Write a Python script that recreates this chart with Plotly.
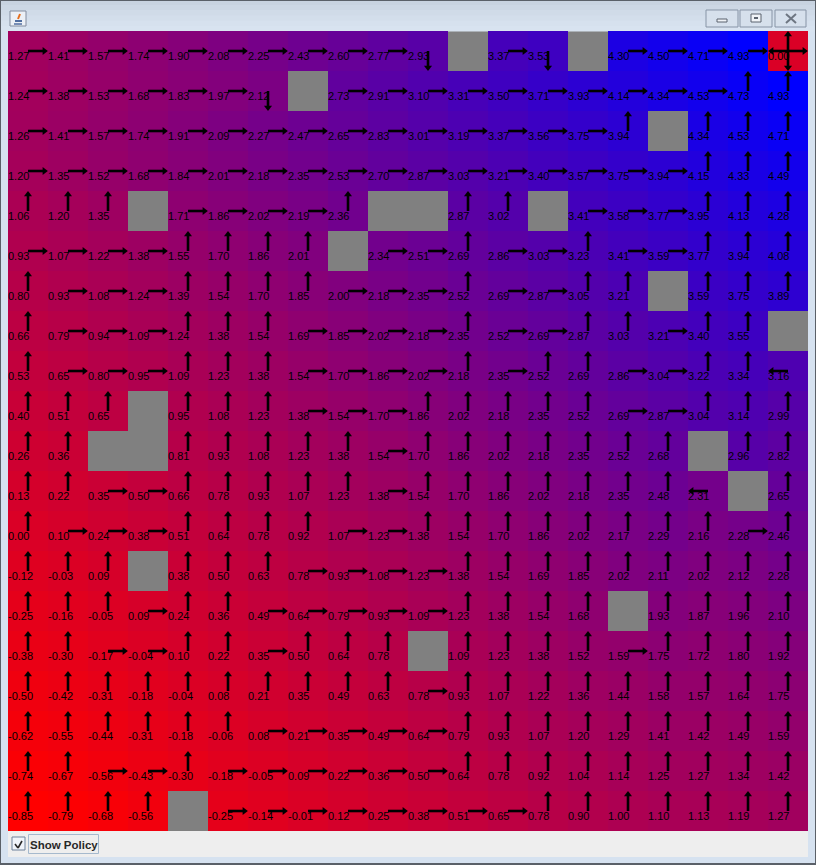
import plotly.graph_objects as go

W, H = 816, 865
GX0, GX1, GY0, GY1 = 8, 808, 31, 831

# value function (None = wall), rows top->bottom, cols left->right
values = [
    [1.27, 1.41, 1.57, 1.74, 1.90, 2.08, 2.25, 2.43, 2.60, 2.77, 2.93, None, 3.37, 3.53, None, 4.30, 4.50, 4.71, 4.93, 0.00],
    [1.24, 1.38, 1.53, 1.68, 1.83, 1.97, 2.12, None, 2.73, 2.91, 3.10, 3.31, 3.50, 3.71, 3.93, 4.14, 4.34, 4.53, 4.73, 4.93],
    [1.26, 1.41, 1.57, 1.74, 1.91, 2.09, 2.27, 2.47, 2.65, 2.83, 3.01, 3.19, 3.37, 3.56, 3.75, 3.94, None, 4.34, 4.53, 4.71],
    [1.20, 1.35, 1.52, 1.68, 1.84, 2.01, 2.18, 2.35, 2.53, 2.70, 2.87, 3.03, 3.21, 3.40, 3.57, 3.75, 3.94, 4.15, 4.33, 4.49],
    [1.06, 1.20, 1.35, None, 1.71, 1.86, 2.02, 2.19, 2.36, None, None, 2.87, 3.02, None, 3.41, 3.58, 3.77, 3.95, 4.13, 4.28],
    [0.93, 1.07, 1.22, 1.38, 1.55, 1.70, 1.86, 2.01, None, 2.34, 2.51, 2.69, 2.86, 3.03, 3.23, 3.41, 3.59, 3.77, 3.94, 4.08],
    [0.80, 0.93, 1.08, 1.24, 1.39, 1.54, 1.70, 1.85, 2.00, 2.18, 2.35, 2.52, 2.69, 2.87, 3.05, 3.21, None, 3.59, 3.75, 3.89],
    [0.66, 0.79, 0.94, 1.09, 1.24, 1.38, 1.54, 1.69, 1.85, 2.02, 2.18, 2.35, 2.52, 2.69, 2.87, 3.03, 3.21, 3.40, 3.55, None],
    [0.53, 0.65, 0.80, 0.95, 1.09, 1.23, 1.38, 1.54, 1.70, 1.86, 2.02, 2.18, 2.35, 2.52, 2.69, 2.86, 3.04, 3.22, 3.34, 3.16],
    [0.40, 0.51, 0.65, None, 0.95, 1.08, 1.23, 1.38, 1.54, 1.70, 1.86, 2.02, 2.18, 2.35, 2.52, 2.69, 2.87, 3.04, 3.14, 2.99],
    [0.26, 0.36, None, None, 0.81, 0.93, 1.08, 1.23, 1.38, 1.54, 1.70, 1.86, 2.02, 2.18, 2.35, 2.52, 2.68, None, 2.96, 2.82],
    [0.13, 0.22, 0.35, 0.50, 0.66, 0.78, 0.93, 1.07, 1.23, 1.38, 1.54, 1.70, 1.86, 2.02, 2.18, 2.35, 2.48, 2.31, None, 2.65],
    [0.00, 0.10, 0.24, 0.38, 0.51, 0.64, 0.78, 0.92, 1.07, 1.23, 1.38, 1.54, 1.70, 1.86, 2.02, 2.17, 2.29, 2.16, 2.28, 2.46],
    [-0.12, -0.03, 0.09, None, 0.38, 0.50, 0.63, 0.78, 0.93, 1.08, 1.23, 1.38, 1.54, 1.69, 1.85, 2.02, 2.11, 2.02, 2.12, 2.28],
    [-0.25, -0.16, -0.05, 0.09, 0.24, 0.36, 0.49, 0.64, 0.79, 0.93, 1.09, 1.23, 1.38, 1.54, 1.68, None, 1.93, 1.87, 1.96, 2.10],
    [-0.38, -0.30, -0.17, -0.04, 0.10, 0.22, 0.35, 0.50, 0.64, 0.78, None, 1.09, 1.23, 1.38, 1.52, 1.59, 1.75, 1.72, 1.80, 1.92],
    [-0.50, -0.42, -0.31, -0.18, -0.04, 0.08, 0.21, 0.35, 0.49, 0.63, 0.78, 0.93, 1.07, 1.22, 1.36, 1.44, 1.58, 1.57, 1.64, 1.75],
    [-0.62, -0.55, -0.44, -0.31, -0.18, -0.06, 0.08, 0.21, 0.35, 0.49, 0.64, 0.79, 0.93, 1.07, 1.20, 1.29, 1.41, 1.42, 1.49, 1.59],
    [-0.74, -0.67, -0.56, -0.43, -0.30, -0.18, -0.05, 0.09, 0.22, 0.36, 0.50, 0.64, 0.78, 0.92, 1.04, 1.14, 1.25, 1.27, 1.34, 1.42],
    [-0.85, -0.79, -0.68, -0.56, None, -0.25, -0.14, -0.01, 0.12, 0.25, 0.38, 0.51, 0.65, 0.78, 0.90, 1.00, 1.10, 1.13, 1.19, 1.27],
]

# policy: R right, U up, D down, L left, A all four (goal), - none
policy = [
    "R R R R R R R R R R D - R D - R R R R A",
    "R R R R R R D - R R R R R R R R R R U U",
    "R R R R R R R R R R R R R R R U - U U U",
    "R R R R R R R R R R R R R R R R R U U U",
    "U U U - R R R R U - - U U - R R R U U U",
    "R R R R U U U U - R R U R R U R R U U U",
    "U R R R U U U U R R R U R R U U - U U U",
    "U R R R U U U R R R R U R R U U R U U -",
    "U R R R U U U R R R R U R U U R R U U L",
    "U U U - U U U R R R U U U U U R R U U U",
    "U U - - U U U U U R U U U U U U U - U U",
    "U U R R U U U U U R U U U U U U U L - U",
    "U R R R U U U U R R U U U U U U U U R U",
    "U U U - U U U R R R R U U U U U U U U U",
    "U U U R U U R R R R R U U U U - U U U U",
    "U U R R U U R U U U - U U U U R U U U U",
    "U U U U U U U U U U R U U U U U U U U U",
    "U U U U U U R R R R R U U U U U U U U U",
    "U U R R U R R R R R R U U U U U U U U U",
    "U U U U - R R R R R R R R U U U U U U U",
]
policy = [row.split(" ") for row in policy]

N = len(values)
cols = list(range(N))
rows = list(range(N))

flat = [v for r in values for v in r if v is not None]
vmin, vmax = min(flat), max(flat)

fig = go.Figure()

fig.add_trace(go.Heatmap(
    z=values, x=cols, y=rows,
    colorscale=[[0, "rgb(255,0,0)"], [1, "rgb(0,0,255)"]],
    zmin=vmin, zmax=vmax, showscale=False, hoverinfo="skip",
))

# value labels
tx, ty, tt = [], [], []
for r in rows:
    for c in cols:
        v = values[r][c]
        if v is None:
            continue
        tx.append(c - 0.5)
        ty.append(r + 0.16)
        tt.append(f"{v:.2f}")
fig.add_trace(go.Scatter(
    x=tx, y=ty, text=tt, mode="text", textposition="middle right",
    textfont=dict(family="Liberation Sans, Arial", size=11, color="black"),
    hoverinfo="skip", showlegend=False,
))

# policy arrows
DIRS = {"R": (1, 0), "L": (-1, 0), "U": (0, -1), "D": (0, 1)}
L = 0.47
lx, ly = [], []
heads = {k: ([], []) for k in DIRS}
for r in rows:
    for c in cols:
        p = policy[r][c]
        if p in ("", "-"):
            continue
        ds = list(DIRS) if p == "A" else [p]
        for d in ds:
            dx, dy = DIRS[d]
            ex, ey = c + dx * L, r + dy * L
            lx += [c, ex - dx * 0.07, None]
            ly += [r, ey - dy * 0.07, None]
            heads[d][0].append(ex - dx * 0.06)
            heads[d][1].append(ey - dy * 0.06)
fig.add_trace(go.Scatter(x=lx, y=ly, mode="lines", line=dict(color="black", width=2.6),
                         hoverinfo="skip", showlegend=False))
SYM = {"R": "triangle-right", "L": "triangle-left", "U": "triangle-up", "D": "triangle-down"}
for d, (hx, hy) in heads.items():
    if hx:
        fig.add_trace(go.Scatter(x=hx, y=hy, mode="markers",
                                 marker=dict(symbol=SYM[d], size=7, color="black", line=dict(width=0)),
                                 hoverinfo="skip", showlegend=False))

# ---- window chrome (decoration, pixel coords -> paper) ----
def X(p):
    return p / W

def Y(p):
    return 1 - p / H

shapes = []

def rect(x0, y0, x1, y1, fill, line=None, lw=0, layer="below"):
    shapes.append(dict(type="rect", xref="paper", yref="paper",
                       x0=X(x0), x1=X(x1), y0=Y(y1), y1=Y(y0),
                       fillcolor=fill, line=dict(color=line or fill, width=lw), layer=layer))

def seg(x0, y0, x1, y1, color, w):
    shapes.append(dict(type="line", xref="paper", yref="paper",
                       x0=X(x0), x1=X(x1), y0=Y(y0), y1=Y(y1),
                       line=dict(color=color, width=w), layer="above"))

# title bar gradient
bands = [(200, 211, 224), (204, 215, 228), (208, 219, 232), (211, 222, 235), (214, 225, 238), (216, 227, 240)]
bh = 31 / len(bands)
for i, col in enumerate(bands):
    rect(0, i * bh, W, (i + 1) * bh + 0.5, "rgb(%d,%d,%d)" % col)
# outer border
seg(0.5, 0, 0.5, H, "rgb(90,96,104)", 1)
seg(W - 0.5, 0, W - 0.5, H, "rgb(90,96,104)", 1)
seg(0, 0.5, W, 0.5, "rgb(90,96,104)", 1)
seg(0, H - 1, W, H - 1, "rgb(90,96,104)", 2)
# bottom panel
rect(GX0, GY1, GX1, 857, "rgb(238,238,238)")

# java icon
rect(10, 11, 26, 26, "rgb(236,240,246)", "rgb(130,140,158)", 1, "above")
seg(15, 21, 22, 21, "rgb(80,110,160)", 2)
seg(14, 24, 22, 24, "rgb(80,110,160)", 1.5)
seg(18, 19, 20, 14, "rgb(230,110,30)", 2)

# window buttons
for (x0, x1) in [(706, 738), (740, 772), (775, 806)]:
    shapes.append(dict(type="rect", xref="paper", yref="paper", x0=X(x0), x1=X(x1), y0=Y(27), y1=Y(10),
                       fillcolor="rgb(214,224,236)", line=dict(color="rgb(135,148,166)", width=1), layer="above"))
rect(717, 19, 727, 22, "rgb(240,243,247)", "rgb(90,98,110)", 1, "above")
rect(751, 14, 761, 22, "rgb(240,243,247)", "rgb(90,98,110)", 1, "above")
rect(754, 17, 758, 19, "rgb(90,98,110)", "rgb(90,98,110)", 0, "above")
seg(786, 14, 796, 23, "rgb(110,118,130)", 2)
seg(786, 23, 796, 14, "rgb(110,118,130)", 2)

# checkbox
shapes.append(dict(type="rect", xref="paper", yref="paper", x0=X(12), x1=X(25), y0=Y(850), y1=Y(837),
                   fillcolor="rgb(240,244,250)", line=dict(color="rgb(110,130,155)", width=1), layer="above"))
seg(15, 844, 18, 848, "rgb(40,40,40)", 1.6)
seg(18, 848, 22, 841, "rgb(40,40,40)", 1.6)
shapes.append(dict(type="rect", xref="paper", yref="paper", x0=X(28.5), x1=X(98.5), y0=Y(853.5), y1=Y(834.5),
                   fillcolor="rgba(0,0,0,0)", line=dict(color="rgb(165,185,205)", width=1), layer="above"))

annotations = [dict(text="<b>Show Policy</b>", xref="paper", yref="paper", x=X(27.5), y=Y(844.5),
                    xanchor="left", yanchor="middle", showarrow=False,
                    font=dict(family="Liberation Sans, Arial", size=11.5, color="rgb(40,40,40)"))]

fig.update_layout(
    width=W, height=H, autosize=False,
    margin=dict(l=0, r=0, t=0, b=0, pad=0),
    paper_bgcolor="rgb(214,226,240)",
    plot_bgcolor="rgb(128,128,128)",
    xaxis=dict(domain=[X(GX0), X(GX1)], range=[-0.5, N - 0.5], showgrid=False, zeroline=False,
               showticklabels=False, ticks="", fixedrange=True),
    yaxis=dict(domain=[Y(GY1), Y(GY0)], range=[N - 0.5, -0.5], showgrid=False, zeroline=False,
               showticklabels=False, ticks="", fixedrange=True),
    shapes=shapes, annotations=annotations, showlegend=False,
)

fig.write_html("out.html")
